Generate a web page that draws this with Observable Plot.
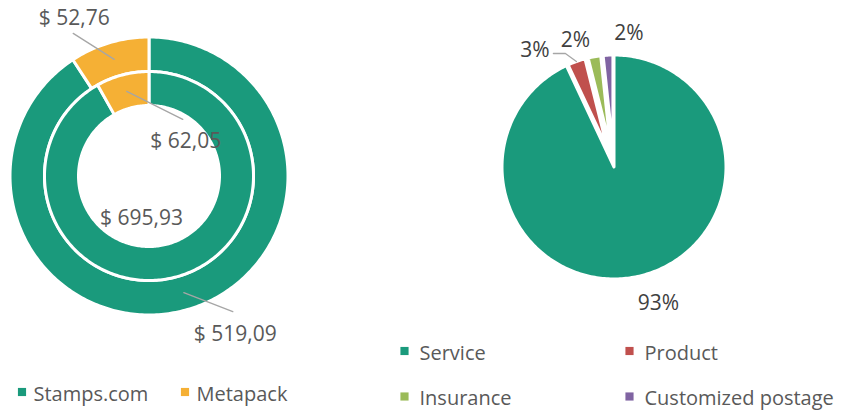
<!DOCTYPE html>
<html><head><meta charset="utf-8">
<script src="https://cdn.jsdelivr.net/npm/d3@7"></script>
<script src="https://cdn.jsdelivr.net/npm/@observablehq/plot@0.6"></script>
<style>body{margin:0;background:#fff;}</style>
</head><body><div id="chart"></div>
<script>
// ---- data ----
const donutCategories = ["Stamps.com", "Metapack"];
const outerValues = [519.09, 52.76];
const innerValues = [695.93, 62.05];
const outerLabels = ["$ 519,09", "$ 52,76"];
const innerLabels = ["$ 695,93", "$ 62,05"];
const donutColors = ["#1a9a7c", "#f5b035"];

const pieCategories = ["Service", "Product", "Insurance", "Customized postage"];
const pieValues = [93.0, 3.1, 2.2, 1.7];
const pieLabels = ["93%", "3%", "2%", "2%"];
const pieColors = ["#1a9a7c", "#c0504d", "#9bbb59", "#8064a2"];

// ---- layout ----
const W = 842, H = 410;
const donut = {cx: 148.5, cy: 175.5};
const rings = [
  {name: "outer", values: outerValues, labels: outerLabels, r0: 104.5, r1: 139, rAnchor: 121.75,
   place: [{leader: [[49, 19]], text: [51.5, 42]}, {leader: [[-41, -26]], text: [-40, -41]}]},
  {name: "inner", values: innerValues, labels: innerLabels, r0: 70.5, r1: 104.5, rAnchor: 87.5,
   place: [{leader: [], text: [-29.7, -42]}, {leader: [[56, 28]], text: [59, 50]}]}
];
const pie = {cx: 613.5, cy: 166.5, rMain: 112, rSmall: 92, explode: 20};
const piePlace = [
  {leader: [], text: [20.4, 28.7]},
  {leader: [[-11, -8], [-23, -8]], text: [-41.5, -11]},
  {leader: [], text: [-19, -16]},
  {leader: [], text: [21, -21.5]}
];

function pt(cx, cy, r, deg) {
  const a = deg * Math.PI / 180;
  return [cx + r * Math.sin(a), cy - r * Math.cos(a)];
}
function slices(values) {
  const total = d3.sum(values);
  let acc = 0;
  return values.map((v, i) => {
    const a0 = acc / total * 360; acc += v; const a1 = acc / total * 360;
    return {i, a0, a1, mid: (a0 + a1) / 2};
  });
}
function arcPoints(id, color, cx, cy, r0, r1, a0, a1) {
  const n = Math.max(2, Math.ceil(a1 - a0));
  const pts = [];
  for (let k = 0; k <= n; k++) { const [x, y] = pt(cx, cy, r1, a0 + (a1 - a0) * k / n); pts.push({id, color, x, y}); }
  if (r0 > 0) {
    for (let k = n; k >= 0; k--) { const [x, y] = pt(cx, cy, r0, a0 + (a1 - a0) * k / n); pts.push({id, color, x, y}); }
  } else pts.push({id, color, x: cx, y: cy});
  pts.push({...pts[0]});
  return pts;
}

const polys = [], leaders = [], texts = [];
rings.forEach(ring => {
  slices(ring.values).forEach(s => {
    polys.push(...arcPoints(ring.name + s.i, donutColors[s.i], donut.cx, donut.cy, ring.r0, ring.r1, s.a0, s.a1));
    const [ax, ay] = pt(donut.cx, donut.cy, ring.rAnchor, s.mid);
    const p = ring.place[s.i];
    if (p.leader.length) {
      leaders.push({id: ring.name + s.i, x: ax, y: ay});
      p.leader.forEach(([dx, dy]) => leaders.push({id: ring.name + s.i, x: ax + dx, y: ay + dy}));
    }
    texts.push({x: ax + p.text[0], y: ay + p.text[1], label: ring.labels[s.i], color: "#595959"});
  });
});
slices(pieValues).forEach(s => {
  let cx = pie.cx, cy = pie.cy, r = pie.rMain;
  if (s.i > 0) { [cx, cy] = pt(pie.cx, pie.cy, pie.explode, s.mid); r = pie.rSmall; }
  polys.push(...arcPoints("pie" + s.i, pieColors[s.i], cx, cy, 0, r, s.a0, s.a1));
  const [ax, ay] = pt(cx, cy, r - (s.i > 0 ? 0 : 1.5), s.mid);
  const p = piePlace[s.i];
  if (p.leader.length) {
    leaders.push({id: "pie" + s.i, x: ax, y: ay});
    p.leader.forEach(([dx, dy]) => leaders.push({id: "pie" + s.i, x: ax + dx, y: ay + dy}));
  }
  texts.push({x: ax + p.text[0], y: ay + p.text[1], label: pieLabels[s.i], color: "#404040"});
});

// legends
const legend = [];
const leftCols = [21.5, 184.5];
donutCategories.forEach((c, i) => legend.push({sx: leftCols[i], sy: 391.5, tx: leftCols[i] + 11.5, ty: 394, label: c, color: donutColors[i]}));
const rightCols = [404, 629], rightRows = [350.5, 396];
pieCategories.forEach((c, i) => {
  const col = i % 2, row = Math.floor(i / 2);
  legend.push({sx: rightCols[col], sy: rightRows[row], tx: rightCols[col] + 15, ty: rightRows[row] + 2.5, label: c, color: pieColors[i]});
});

const chart = Plot.plot({
  width: W, height: H, margin: 0,
  x: {domain: [0, W], range: [0, W], axis: null},
  y: {domain: [0, H], range: [0, H], axis: null},
  color: {type: "identity"},
  style: {fontFamily: "'Open Sans', sans-serif", background: "white"},
  marks: [
    Plot.line(polys, {x: "x", y: "y", z: "id", fill: "color", stroke: "white", strokeWidth: 3, strokeLinejoin: "round"}),
    Plot.line(leaders, {x: "x", y: "y", z: "id", stroke: "#a6a6a6", strokeWidth: 1.3}),
    Plot.text(texts, {x: "x", y: "y", text: "label", fill: "color", fontSize: 21, textAnchor: "middle", lineAnchor: "middle"}),
    Plot.dot(legend, {x: "sx", y: "sy", symbol: "square", r: 4.6, fill: "color", stroke: null}),
    Plot.text(legend, {x: "tx", y: "ty", text: "label", fill: "#595959", fontSize: 20, textAnchor: "start", lineAnchor: "middle"})
  ]
});
document.getElementById("chart").append(chart);
</script>
</body></html>
